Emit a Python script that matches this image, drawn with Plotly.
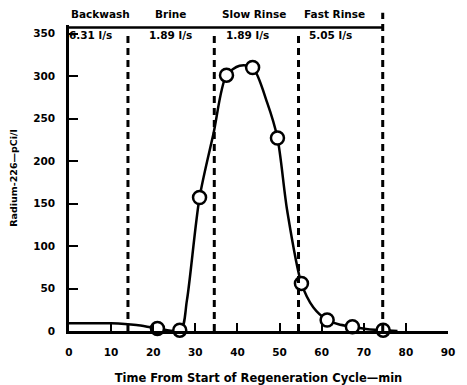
import plotly.graph_objects as go

# Measured points (open circles)
meas_t = [21.0, 26.3, 31.0, 37.4, 43.6, 49.5, 55.2, 61.3, 67.3, 74.6]
meas_ra = [3, 1, 157, 301, 310, 227, 56, 13, 5, 1]

# Smooth fitted curve
curve_t = [0, 10, 16, 21, 26.5, 28, 31, 34.3, 37.4, 40.5, 43.6, 47.1, 49.5, 51.8, 55.2, 58, 61.3, 64, 67.3, 71, 74.6, 78]
curve_ra = [9, 9, 7, 3, 1, 36, 157, 232, 301, 312, 310, 268, 227, 142, 56, 28, 13, 8, 5, 2, 1, 0]

# Phase boundaries (min) and labels
phase_bounds = [14, 34.5, 54.5, 74.5]
phase_names = ["Backwash", "Brine", "Slow Rinse", "Fast Rinse"]
phase_name_x = [7.4, 24, 44, 63]
flow_labels = ["6.31 l/s", "1.89 l/s", "1.89 l/s", "5.05 l/s"]
flow_x = [5.2, 24, 42.5, 62]

x_ticks = [0, 10, 20, 30, 40, 50, 60, 70, 80, 90]
y_ticks = [0, 50, 100, 150, 200, 250, 300, 350]

FONT = "DejaVu Sans"

fig = go.Figure()
fig.add_trace(go.Scatter(x=curve_t, y=curve_ra, mode="lines",
                         line=dict(color="black", width=2.5, shape="spline", smoothing=0.8),
                         hoverinfo="skip", showlegend=False))
fig.add_trace(go.Scatter(x=meas_t, y=meas_ra, mode="markers",
                         marker=dict(symbol="circle", size=13, color="white",
                                     line=dict(color="black", width=2.5)),
                         showlegend=False, cliponaxis=False))

shapes = []
for i, b in enumerate(phase_bounds):
    if i == len(phase_bounds) - 1:
        shapes.append(dict(type="line", xref="x", yref="paper", x0=b, x1=b, y0=0, y1=1.04,
                           line=dict(color="black", width=3, dash="7px,5px")))
    else:
        shapes.append(dict(type="line", xref="x", yref="y", x0=b, x1=b, y0=0, y1=352,
                           line=dict(color="black", width=3, dash="7px,5px")))
# top frame line
shapes.append(dict(type="line", xref="x", yref="y", x0=0, x1=phase_bounds[-1], y0=357, y1=357,
                   line=dict(color="black", width=2.5)))
# scan edge bar (right)
shapes.append(dict(type="rect", xref="paper", yref="paper", x0=1.037, x1=1.07, y0=-0.2, y1=1.1,
                   fillcolor="black", line=dict(width=0)))

annotations = []
for name, xx in zip(phase_names, phase_name_x):
    annotations.append(dict(x=xx, y=1.036, xref="x", yref="paper", yanchor="middle",
                            text=name, showarrow=False,
                            font=dict(family=FONT, size=10.5, color="black", weight="bold")))
for lab, xx in zip(flow_labels, flow_x):
    annotations.append(dict(x=xx, y=348, xref="x", yref="y", yanchor="middle",
                            text=lab, showarrow=False,
                            font=dict(family=FONT, size=10.5, color="black", weight="bold")))

fig.update_layout(
    width=459, height=377,
    margin=dict(l=61, r=19, t=17, b=54),
    paper_bgcolor="white", plot_bgcolor="white",
    font=dict(family=FONT, size=11, color="black", weight="bold"),
    shapes=shapes, annotations=annotations,
    xaxis=dict(range=[0, 90], tickvals=x_ticks, showgrid=False, zeroline=False,
               showline=True, linecolor="black", linewidth=2.5, automargin=False,
               ticks="inside", ticklen=8, tickwidth=2, tickcolor="black",
               ticklabelstandoff=10,
               tickfont=dict(family=FONT, size=10.5, weight="bold"),
               title=dict(text="Time From Start of Regeneration Cycle—min", standoff=22,
                          font=dict(family=FONT, size=11.5, weight="bold"))),
    yaxis=dict(range=[0, 360], tickvals=y_ticks, showgrid=False, zeroline=False,
               showline=True, linecolor="black", linewidth=2.5, automargin=False,
               ticks="inside", ticklen=9, tickwidth=2, tickcolor="black",
               ticklabelstandoff=9,
               tickfont=dict(family=FONT, size=10.5, weight="bold"),
               title=dict(text="Radium-226—pCi/l", standoff=14,
                          font=dict(family=FONT, size=9.5, weight="bold"))),
)

fig.write_html("out.html")
